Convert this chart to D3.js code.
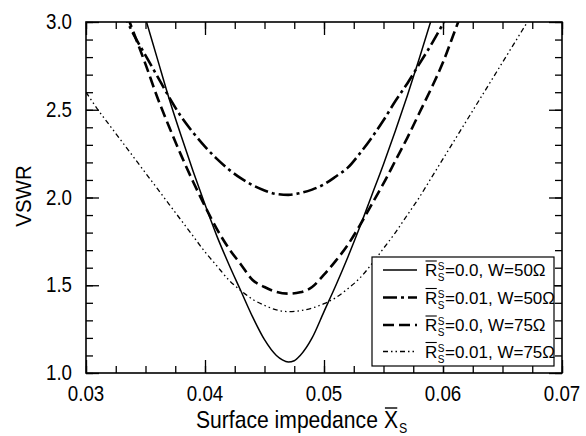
<!DOCTYPE html>
<html>
<head>
<meta charset="utf-8">
<script src="https://cdn.jsdelivr.net/npm/d3@7"></script>
<style>
  html, body { margin: 0; padding: 0; background: #fff; }
  svg { display: block; font-family: "Liberation Sans", Arial, sans-serif; }
</style>
</head>
<body>
<svg id="chart" width="586" height="436"></svg>
<script>
// Axis ticks
const xMajorTicks = [0.03, 0.04, 0.05, 0.06, 0.07];
const yMajorTicks = [1.0, 1.5, 2.0, 2.5, 3.0];

// R_s = 0.0, W = 50 ohm
const xSolid = [0.035, 0.036, 0.037, 0.038, 0.039, 0.040, 0.041, 0.042, 0.043, 0.044, 0.045, 0.046, 0.0465, 0.047, 0.0475, 0.048, 0.049, 0.050, 0.051, 0.052, 0.053, 0.054, 0.055, 0.056, 0.057, 0.058, 0.059];
const vSolid = [3.02, 2.79, 2.56, 2.35, 2.15, 1.96, 1.78, 1.62, 1.47, 1.32, 1.19, 1.10, 1.075, 1.063, 1.07, 1.10, 1.20, 1.35, 1.50, 1.66, 1.83, 2.01, 2.19, 2.38, 2.58, 2.79, 3.01];

// R_s = 0.01, W = 50 ohm
const xDashDot = [0.033, 0.034, 0.035, 0.036, 0.037, 0.038, 0.039, 0.040, 0.041, 0.042, 0.043, 0.044, 0.045, 0.046, 0.047, 0.048, 0.049, 0.050, 0.051, 0.052, 0.053, 0.054, 0.055, 0.056, 0.057, 0.058, 0.059, 0.060, 0.0605];
const vDashDot = [3.07, 2.93, 2.81, 2.69, 2.57, 2.46, 2.37, 2.29, 2.22, 2.16, 2.11, 2.07, 2.04, 2.02, 2.015, 2.025, 2.045, 2.075, 2.12, 2.17, 2.25, 2.34, 2.44, 2.55, 2.65, 2.76, 2.87, 2.99, 3.05];

// R_s = 0.0, W = 75 ohm
const xDashed = [0.0335, 0.034, 0.035, 0.036, 0.037, 0.038, 0.039, 0.040, 0.041, 0.042, 0.043, 0.044, 0.045, 0.046, 0.047, 0.048, 0.049, 0.050, 0.051, 0.052, 0.053, 0.054, 0.055, 0.056, 0.057, 0.058, 0.059, 0.060, 0.061, 0.0615];
const vDashed = [3.03, 2.94, 2.76, 2.57, 2.40, 2.24, 2.09, 1.95, 1.82, 1.71, 1.62, 1.53, 1.49, 1.462, 1.452, 1.46, 1.49, 1.56, 1.64, 1.73, 1.84, 1.96, 2.08, 2.21, 2.34, 2.48, 2.62, 2.77, 2.95, 3.04];

// R_s = 0.01, W = 75 ohm
const xDotted = [0.030, 0.031, 0.032, 0.033, 0.034, 0.035, 0.036, 0.037, 0.038, 0.039, 0.040, 0.041, 0.042, 0.043, 0.044, 0.045, 0.046, 0.047, 0.048, 0.049, 0.050, 0.051, 0.052, 0.053, 0.054, 0.055, 0.056, 0.057, 0.058, 0.059, 0.060, 0.061, 0.062, 0.063, 0.064, 0.065, 0.066, 0.067, 0.068];
const vDotted = [2.60, 2.50, 2.41, 2.32, 2.23, 2.14, 2.05, 1.96, 1.87, 1.78, 1.69, 1.61, 1.53, 1.47, 1.42, 1.385, 1.36, 1.35, 1.355, 1.37, 1.395, 1.43, 1.48, 1.54, 1.62, 1.71, 1.80, 1.90, 2.00, 2.11, 2.22, 2.33, 2.44, 2.55, 2.66, 2.77, 2.88, 2.99, 3.10];

const legendRs = ["0.0", "0.01", "0.0", "0.01"];
const legendW = ["50", "50", "75", "75"];

const series = [
  { xs: xSolid, ys: vSolid, width: 1.5, dash: null },
  { xs: xDashDot, ys: vDashDot, width: 2.6, dash: "14,4,3,4" },
  { xs: xDashed, ys: vDashed, width: 2.6, dash: "11,5" },
  { xs: xDotted, ys: vDotted, width: 1.3, dash: "5,3,1.5,3,1.5,3" }
];

const svg = d3.select("#chart");
const plotL = 86, plotR = 562, plotT = 22, plotB = 373;

const x = d3.scaleLinear().domain([0.03, 0.07]).range([plotL, plotR]);
const y = d3.scaleLinear().domain([1.0, 3.0]).range([plotB, plotT]);

const xMinor = d3.range(0, 17).map(i => 0.03 + i * 0.0025);
const yMinor = d3.range(0, 21).map(i => 1.0 + i * 0.1);

svg.append("clipPath").attr("id", "plotClip")
  .append("rect").attr("x", plotL).attr("y", plotT)
  .attr("width", plotR - plotL).attr("height", plotB - plotT);

// curves
const plot = svg.append("g").attr("clip-path", "url(#plotClip)");
series.forEach(s => {
  const pts = s.xs.map((v, i) => [v, s.ys[i]]);
  const line = d3.line().x(d => x(d[0])).y(d => y(d[1])).curve(d3.curveMonotoneX);
  plot.append("path").datum(pts)
    .attr("d", line)
    .attr("fill", "none")
    .attr("stroke", "#000")
    .attr("stroke-width", s.width)
    .attr("stroke-dasharray", s.dash);
});

// inward ticks on all four sides
function tickAxis(axis, tf, size, values) {
  const g = svg.append("g").attr("transform", tf)
    .call(axis.tickValues(values).tickSize(size).tickFormat(""));
  g.select(".domain").remove();
  g.selectAll(".tick line").attr("stroke", "#000").attr("stroke-width", 1.3);
  return g;
}
tickAxis(d3.axisBottom(x), `translate(0,${plotB})`, -7, xMinor);
tickAxis(d3.axisBottom(x), `translate(0,${plotB})`, -13, xMajorTicks);
tickAxis(d3.axisTop(x), `translate(0,${plotT})`, -7, xMinor);
tickAxis(d3.axisTop(x), `translate(0,${plotT})`, -13, xMajorTicks);
tickAxis(d3.axisLeft(y), `translate(${plotL},0)`, -7, yMinor);
tickAxis(d3.axisLeft(y), `translate(${plotL},0)`, -13, yMajorTicks);
tickAxis(d3.axisRight(y), `translate(${plotR},0)`, -7, yMinor);
tickAxis(d3.axisRight(y), `translate(${plotR},0)`, -13, yMajorTicks);

// frame
svg.append("rect").attr("x", plotL).attr("y", plotT)
  .attr("width", plotR - plotL).attr("height", plotB - plotT)
  .attr("fill", "none").attr("stroke", "#000").attr("stroke-width", 1.6);

// tick labels
const sx = 0.85;
const fmt = d3.format(".2f");
xMajorTicks.forEach(v => {
  svg.append("g").attr("transform", `translate(${x(v)},401) scale(${sx},1)`)
    .append("text").attr("text-anchor", "middle").attr("font-size", 22)
    .text(fmt(v));
});
yMajorTicks.forEach(v => {
  svg.append("g").attr("transform", `translate(72,${y(v) + 7}) scale(${sx},1)`)
    .append("text").attr("text-anchor", "end").attr("font-size", 22)
    .text(d3.format(".1f")(v));
});

// y title
svg.append("g").attr("transform", "translate(31,196) rotate(-90) scale(0.93,1)")
  .append("text").attr("text-anchor", "middle").attr("font-size", 22).text("VSWR");

// x title: Surface impedance X̄s
const tg = svg.append("g").attr("transform", "translate(196,428) scale(0.88,1)");
const t1 = tg.append("text").attr("font-size", 24).text("Surface impedance");
const w1 = t1.node().getComputedTextLength() + 7;
const t2 = tg.append("text").attr("x", w1).attr("font-size", 24).text("X");
const w2 = t2.node().getComputedTextLength();
tg.append("line").attr("x1", w1 + 1).attr("x2", w1 + w2 - 1)
  .attr("y1", -20).attr("y2", -20).attr("stroke", "#000").attr("stroke-width", 1.4);
tg.append("text").attr("x", w1 + w2 + 1).attr("y", 5).attr("font-size", 14).text("S");

// legend
const lg = svg.append("g");
lg.append("rect").attr("x", 372).attr("y", 257).attr("width", 182).attr("height", 109)
  .attr("fill", "#fff").attr("stroke", "#000").attr("stroke-width", 1.2);
const rowY = [270, 297.5, 325, 351.5];
series.forEach((s, i) => {
  const cy = rowY[i];
  lg.append("line").attr("x1", 383).attr("x2", 417).attr("y1", cy).attr("y2", cy)
    .attr("stroke", "#000").attr("stroke-width", s.width)
    .attr("stroke-dasharray", s.dash);
  const g = lg.append("g").attr("transform", `translate(425,${cy + 6})`);
  const r = g.append("text").attr("font-size", 17).text("R");
  const rw = r.node().getComputedTextLength();
  g.append("line").attr("x1", 0.5).attr("x2", rw - 0.5).attr("y1", -15).attr("y2", -15)
    .attr("stroke", "#000").attr("stroke-width", 1.1);
  g.append("text").attr("x", rw + 0.5).attr("y", -6).attr("font-size", 10).text("S");
  const sub = g.append("text").attr("x", rw + 0.5).attr("y", 5).attr("font-size", 10).text("S");
  const sw = sub.node().getComputedTextLength();
  g.append("text").attr("x", rw + sw + 1).attr("font-size", 17)
    .text(`=${legendRs[i]}, W=${legendW[i]}\u03A9`);
});
</script>
</body>
</html>
